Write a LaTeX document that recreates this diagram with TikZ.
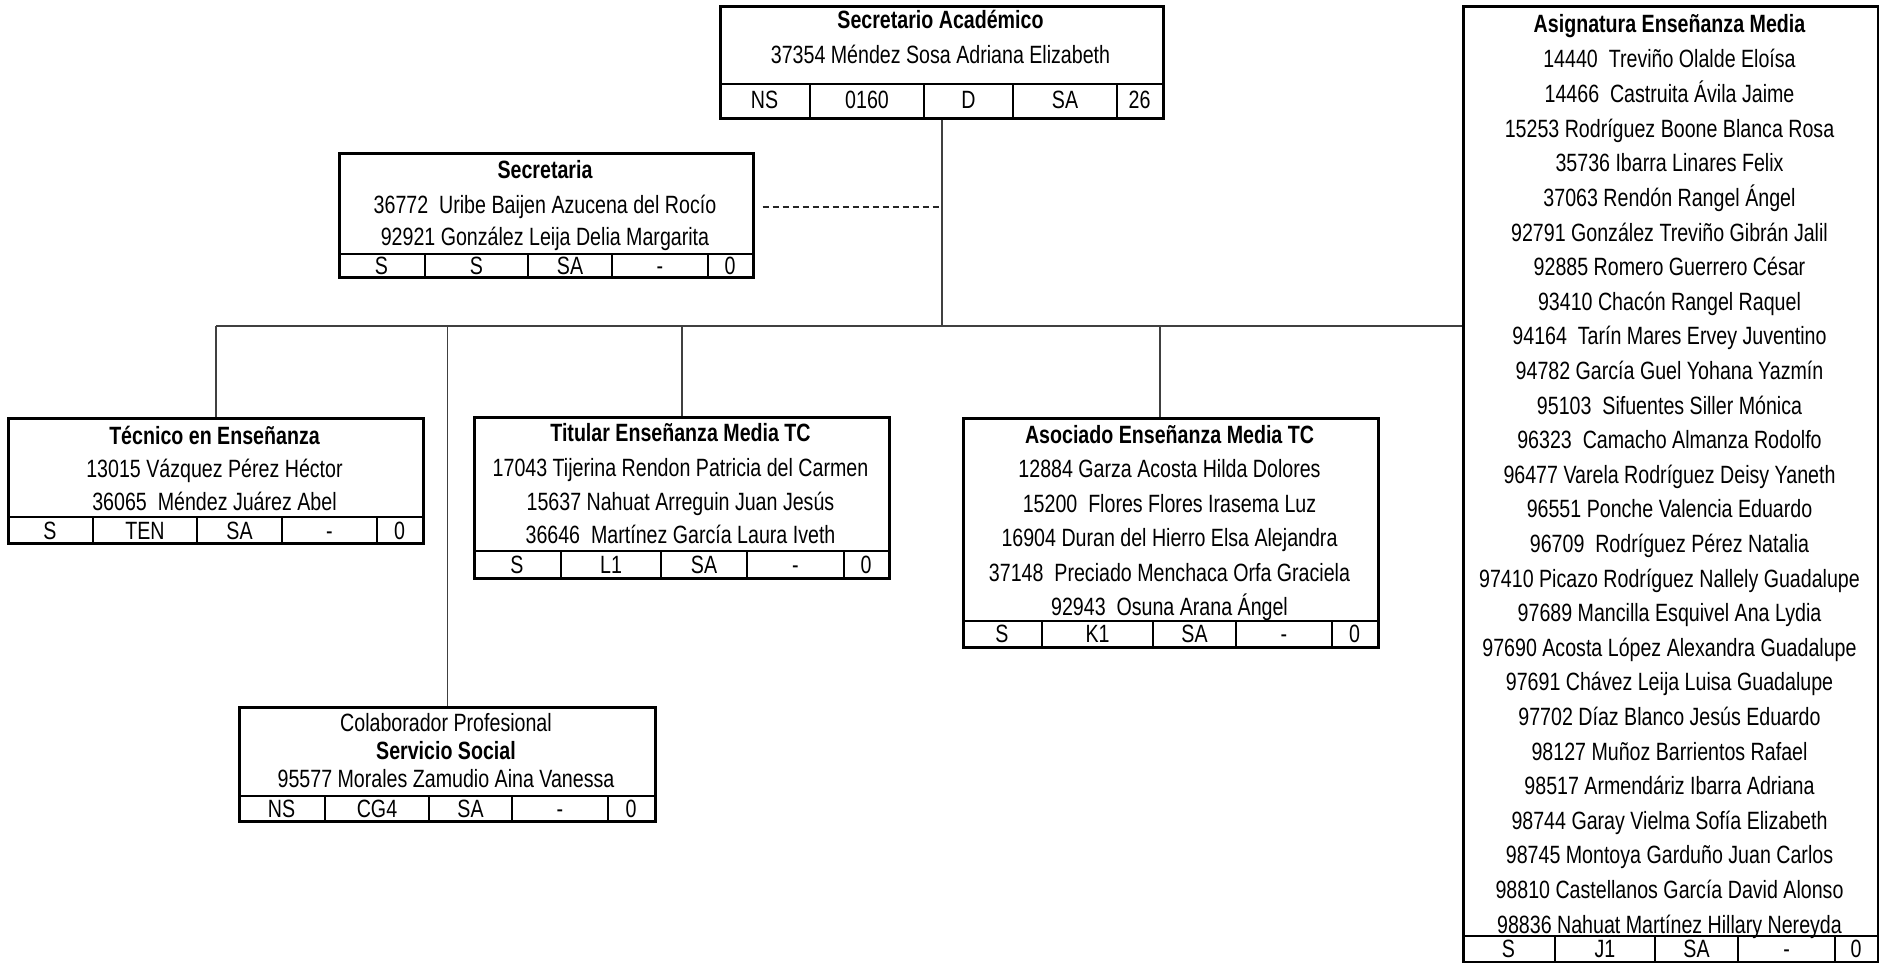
\documentclass[tikz,border=0pt]{standalone}
\usepackage{fontspec}
\setmainfont{Liberation Sans}[FakeStretch=0.785]
\begin{document}
\begin{tikzpicture}[x=1pt,y=-1pt,
  txt/.style={anchor=base, inner sep=0pt, yshift=-1pt, font=\fontsize{25}{30}\selectfont},
  ttl/.style={txt, font=\fontsize{25}{30}\selectfont\bfseries},
  box/.style={draw, line width=2.6pt, inner sep=0pt, anchor=north west},
  sepline/.style={line width=2.2pt},
  colline/.style={line width=1.6pt},
  link/.style={line width=1.6pt, draw=black!75},
  dashlink/.style={link, draw=black!85, dash pattern=on 6pt off 4pt}]
\fill[white] (0,0) rectangle (1879,963);
\useasboundingbox (0,0) rectangle (1879,963);

% ---------- Secretario Academico ----------
\node[box, minimum width=443pt, minimum height=112pt] (sa) at (719,5) {};
\draw[sepline] (719,84) -- (1162,84);
\foreach \c in {810,924,1013,1117} \draw[colline] (\c,84) -- (\c,117);
\node[ttl] (sa-t) at (940.5,28) {Secretario Académico};
\node[txt] (sa-n1) at (940.5,63) {37354 Méndez Sosa Adriana Elizabeth};
\foreach \a/\b/\t [count=\i] in {719/810/NS,810/924/0160,924/1013/D,1013/1117/SA,1117/1162/26}
  \node[txt] (sa-c\i) at ({(\a+\b)/2},108) {\t};

% ---------- Secretaria ----------
\node[box, minimum width=414pt, minimum height=124pt] (sec) at (338,152) {};
\draw[sepline] (338,254) -- (752,254);
\foreach \c in {425,528,612,708} \draw[colline] (\c,254) -- (\c,276);
\node[ttl] (sec-t) at (545,177) {Secretaria};
\node[txt] (sec-n1) at (545,212) {36772~ Uribe Baijen Azucena del Rocío};
\node[txt] (sec-n2) at (545,244) {92921 González Leija Delia Margarita};
\foreach \a/\b/\t [count=\i] in {338/425/S,425/528/S,528/612/SA,612/708/-,708/752/0}
  \node[txt] (sec-c\i) at ({(\a+\b)/2},273) {\t};

% ---------- Tecnico en Ensenanza ----------
\node[box, minimum width=415pt, minimum height=125pt] (tec) at (7,417) {};
\draw[sepline] (7,517) -- (422,517);
\foreach \c in {93,197,282,377} \draw[colline] (\c,517) -- (\c,542);
\node[ttl] (tec-t) at (214.5,443) {Técnico en Enseñanza};
\node[txt] (tec-n1) at (214.5,476) {13015 Vázquez Pérez Héctor};
\node[txt] (tec-n2) at (214.5,509) {36065~ Méndez Juárez Abel};
\foreach \a/\b/\t [count=\i] in {7/93/S,93/197/TEN,197/282/SA,282/377/-,377/422/0}
  \node[txt] (tec-c\i) at ({(\a+\b)/2},538) {\t};

% ---------- Titular Ensenanza Media TC ----------
\node[box, minimum width=415pt, minimum height=161pt] (tit) at (473,416) {};
\draw[sepline] (473,551) -- (888,551);
\foreach \c in {561,661,747,844} \draw[colline] (\c,551) -- (\c,577);
\node[ttl] (tit-t) at (680.5,440) {Titular Enseñanza Media TC};
\node[txt] (tit-n1) at (680.5,475) {17043 Tijerina Rendon Patricia del Carmen};
\node[txt] (tit-n2) at (680.5,509) {15637 Nahuat Arreguin Juan Jesús};
\node[txt] (tit-n3) at (680.5,542) {36646~ Martínez García Laura Iveth};
\foreach \a/\b/\t [count=\i] in {473/561/S,561/661/L1,661/747/SA,747/844/-,844/888/0}
  \node[txt] (tit-c\i) at ({(\a+\b)/2},572) {\t};

% ---------- Asociado Ensenanza Media TC ----------
\node[box, minimum width=415pt, minimum height=229pt] (aso) at (962,417) {};
\draw[sepline] (962,621) -- (1377,621);
\foreach \c in {1042,1153,1236,1332} \draw[colline] (\c,621) -- (\c,646);
\node[ttl] (aso-t) at (1169.5,442) {Asociado Enseñanza Media TC};
\foreach \n [count=\i] in {12884 Garza Acosta Hilda Dolores,
  15200~ Flores Flores Irasema Luz,
  16904 Duran del Hierro Elsa Alejandra,
  37148~ Preciado Menchaca Orfa Graciela,
  92943~ Osuna Arana Ángel}
  \node[txt] (aso-n\i) at (1169.5,{476.5+34.5*(\i-1)}) {\n};
\foreach \a/\b/\t [count=\i] in {962/1042/S,1042/1153/K1,1153/1236/SA,1236/1332/-,1332/1377/0}
  \node[txt] (aso-c\i) at ({(\a+\b)/2},641.5) {\t};

% ---------- Colaborador Profesional ----------
\node[box, minimum width=416pt, minimum height=114pt] (col) at (238,706) {};
\draw[sepline] (238,796) -- (654,796);
\foreach \c in {325,429,512,608} \draw[colline] (\c,796) -- (\c,820);
\node[txt] (col-t1) at (446,730) {Colaborador Profesional};
\node[ttl] (col-t2) at (446,758) {Servicio Social};
\node[txt] (col-n1) at (446,786) {95577 Morales Zamudio Aina Vanessa};
\foreach \a/\b/\t [count=\i] in {238/325/NS,325/429/CG4,429/512/SA,512/608/-,608/654/0}
  \node[txt] (col-c\i) at ({(\a+\b)/2},816) {\t};

% ---------- Asignatura Ensenanza Media ----------
\node[box, minimum width=415pt, minimum height=956pt] (asig) at (1462,5) {};
\draw[sepline] (1462,936) -- (1877,936);
\foreach \c in {1555,1655,1738,1835} \draw[colline] (\c,936) -- (\c,961);
\node[ttl] (asig-t) at (1669.5,32) {Asignatura Enseñanza Media};
\foreach \n [count=\i] in {14440~ Treviño Olalde Eloísa,
  14466~ Castruita Ávila Jaime,
  15253 Rodríguez Boone Blanca Rosa,
  35736 Ibarra Linares Felix,
  37063 Rendón Rangel Ángel,
  92791 González Treviño Gibrán Jalil,
  92885 Romero Guerrero César,
  93410 Chacón Rangel Raquel,
  94164~ Tarín Mares Ervey Juventino,
  94782 García Guel Yohana Yazmín,
  95103~ Sifuentes Siller Mónica,
  96323~ Camacho Almanza Rodolfo,
  96477 Varela Rodríguez Deisy Yaneth,
  96551 Ponche Valencia Eduardo,
  96709~ Rodríguez Pérez Natalia,
  97410 Picazo Rodríguez Nallely Guadalupe,
  97689 Mancilla Esquivel Ana Lydia,
  97690 Acosta López Alexandra Guadalupe,
  97691 Chávez Leija Luisa Guadalupe,
  97702 Díaz Blanco Jesús Eduardo,
  98127 Muñoz Barrientos Rafael,
  98517 Armendáriz Ibarra Adriana,
  98744 Garay Vielma Sofía Elizabeth,
  98745 Montoya Garduño Juan Carlos,
  98810 Castellanos García David Alonso,
  98836 Nahuat Martínez Hillary Nereyda}
  \node[txt] (asig-n\i) at (1669.5,{67+34.6*(\i-1)}) {\n};
\foreach \a/\b/\t [count=\i] in {1462/1555/S,1555/1655/J1,1655/1738/SA,1738/1835/-,1835/1877/0}
  \node[txt] (asig-c\i) at ({(\a+\b)/2},956) {\t};

% ---------- connectors ----------
\coordinate (busy) at (0,326);
\coordinate (dashy) at (0,207);
\coordinate (asoTop) at (1160,417);
\draw[link] (sa.south) -- (sa.south |- busy);
\draw[link] (tec.north |- busy) -- (asig.west |- busy);
\draw[link] (tec.north) -- (tec.north |- busy);
\draw[link] (col.north) -- (col.north |- busy);
\draw[link] (tit.north) -- (tit.north |- busy);
\draw[link] (asoTop) -- (asoTop |- busy);
\draw[dashlink] ([xshift=8pt]sec.east |- dashy) -- (sa.south |- dashy);
\end{tikzpicture}
\end{document}
